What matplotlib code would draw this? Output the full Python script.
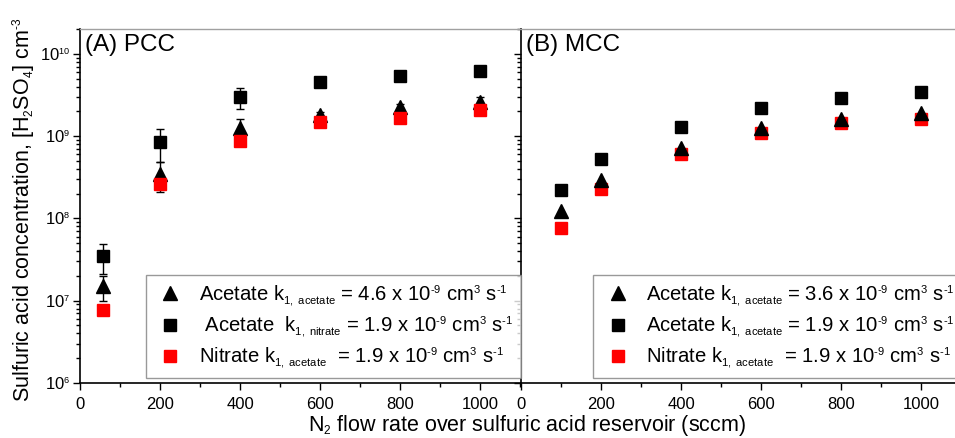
import numpy as np
import matplotlib
matplotlib.use("Agg")
import matplotlib.pyplot as plt
import matplotlib._mathtext as mathtext_internals
from matplotlib.ticker import LogLocator, NullFormatter, MultipleLocator

plt.rcParams['font.family'] = ['Liberation Sans', 'DejaVu Sans']
plt.rcParams['mathtext.fontset'] = 'custom'
plt.rcParams['mathtext.rm'] = 'Liberation Sans'
plt.rcParams['mathtext.it'] = 'Liberation Sans:italic'
plt.rcParams['mathtext.bf'] = 'Liberation Sans:bold'
# smaller sub/superscripts, like the Origin original
mathtext_internals.SHRINK_FACTOR = 0.55

# (A) PCC data
pcc_x = [57, 200, 400, 600, 800, 1000]
pcc_tri = [1.5e7, 3.5e8, 1.26e9, 1.8e9, 2.23e9, 2.6e9]
pcc_tri_err = [0.5e7, 1.4e8, 0.35e9, 0.15e9, 0.2e9, 0.4e9]
pcc_sq = [3.5e7, 8.5e8, 3.0e9, 4.5e9, 5.4e9, 6.2e9]
pcc_sq_err = [1.4e7, 3.6e8, 0.85e9, 0.3e9, 0.45e9, 0.9e9]
pcc_red = [7.8e6, 2.6e8, 8.7e8, 1.48e9, 1.67e9, 2.1e9]

# (B) MCC data
mcc_x = [100, 200, 400, 600, 800, 1000]
mcc_tri = [1.23e8, 2.9e8, 7.2e8, 1.24e9, 1.62e9, 1.89e9]
mcc_sq = [2.23e8, 5.3e8, 1.29e9, 2.2e9, 2.93e9, 3.47e9]
mcc_red = [7.6e7, 2.3e8, 6.0e8, 1.08e9, 1.43e9, 1.62e9]

HY = "\u2010"
pcc_labels = [
    r"Acetate k$_{\mathrm{1,\ acetate}}$ = 4.6 x 10$^{\mathrm{" + HY + r"9}}$ cm$^{\mathrm{3}}$ s$^{\mathrm{" + HY + r"1}}$",
    r" Acetate  k$_{\mathrm{1,\ nitrate}}$ = 1.9 x 10$^{\mathrm{" + HY + r"9}}$ cm$^{\mathrm{3}}$ s$^{\mathrm{" + HY + r"1}}$",
    r"Nitrate k$_{\mathrm{1,\ acetate}}$  = 1.9 x 10$^{\mathrm{" + HY + r"9}}$ cm$^{\mathrm{3}}$ s$^{\mathrm{" + HY + r"1}}$",
]
mcc_labels = [
    r"Acetate k$_{\mathrm{1,\ acetate}}$ = 3.6 x 10$^{\mathrm{" + HY + r"9}}$ cm$^{\mathrm{3}}$ s$^{\mathrm{" + HY + r"1}}$",
    r"Acetate k$_{\mathrm{1,\ acetate}}$ = 1.9 x 10$^{\mathrm{" + HY + r"9}}$ cm$^{\mathrm{3}}$ s$^{\mathrm{" + HY + r"1}}$",
    r"Nitrate k$_{\mathrm{1,\ acetate}}$  = 1.9 x 10$^{\mathrm{" + HY + r"9}}$ cm$^{\mathrm{3}}$ s$^{\mathrm{" + HY + r"1}}$",
]

fig = plt.figure(figsize=(9.55, 4.38), dpi=100)
ax1 = fig.add_axes([80 / 955, 55 / 438, 440 / 955, 354 / 438])
ax2 = fig.add_axes([521 / 955, 55 / 438, 440 / 955, 354 / 438])
ax1.set_zorder(2)
ax2.set_zorder(1)


def style_axes(ax, show_ylabels):
    ax.set_yscale('log')
    ax.set_xlim(0, 1100)
    ax.set_ylim(1e6, 2e10)
    ax.xaxis.set_major_locator(MultipleLocator(200))
    ax.xaxis.set_minor_locator(MultipleLocator(100))
    ax.yaxis.set_major_locator(LogLocator(base=10, numticks=20))
    ax.yaxis.set_minor_locator(LogLocator(base=10, subs=np.arange(2, 10), numticks=20))
    ax.yaxis.set_minor_formatter(NullFormatter())
    ax.tick_params(which='both', direction='out', top=False, right=False,
                   labelsize=12, width=1.0, color='black')
    ax.tick_params(which='major', length=5, pad=5)
    ax.tick_params(which='minor', length=3)
    ax.tick_params(axis='y', which='major', pad=2)
    ax.spines['top'].set_color('#a0a0a0')
    ax.spines['top'].set_linewidth(1.0)
    ax.spines['right'].set_visible(False)
    ax.spines['left'].set_linewidth(1.2)
    ax.spines['bottom'].set_linewidth(1.2)
    if not show_ylabels:
        ax.tick_params(axis='y', which='both', labelleft=False)


style_axes(ax1, True)
style_axes(ax2, False)
ax1.patch.set_visible(False)

legend_kw = dict(borderaxespad=0, fontsize=14.6, frameon=True, fancybox=False,
                 handlelength=1.65, handletextpad=0.6, labelspacing=0.33,
                 borderpad=0.38)

# left panel
ax1.errorbar(pcc_x, pcc_sq, yerr=pcc_sq_err, fmt='none', ecolor='black',
             elinewidth=1.0, capsize=3, capthick=1.0, zorder=2)
ax1.errorbar(pcc_x, pcc_tri, yerr=pcc_tri_err, fmt='none', ecolor='black',
             elinewidth=1.0, capsize=3, capthick=1.0, zorder=2)
h1, = ax1.plot(pcc_x, pcc_tri, linestyle='none', marker='^', ms=10,
               color='black', zorder=3)
h2, = ax1.plot(pcc_x, pcc_sq, linestyle='none', marker='s', ms=9,
               color='black', zorder=3)
h3, = ax1.plot(pcc_x, pcc_red, linestyle='none', marker='s', ms=9,
               color='#ff0000', zorder=4)
leg1 = ax1.legend([h1, h2, h3], pcc_labels, loc='lower left',
                  bbox_to_anchor=(0.15, 0.014), **legend_kw)
leg1.get_frame().set_edgecolor('#808080')
leg1.get_frame().set_linewidth(1.0)
ax1.text(0.012, 0.985, "(A) PCC", transform=ax1.transAxes, fontsize=17.5,
         ha='left', va='top')

# right panel
r3, = ax2.plot(mcc_x, mcc_red, linestyle='none', marker='s', ms=9,
               color='#ff0000', zorder=2)
r2, = ax2.plot(mcc_x, mcc_sq, linestyle='none', marker='s', ms=9,
               color='black', zorder=3)
r1, = ax2.plot(mcc_x, mcc_tri, linestyle='none', marker='^', ms=10,
               color='black', zorder=3)
leg2 = ax2.legend([r1, r2, r3], mcc_labels, loc='lower left',
                  bbox_to_anchor=(0.164, 0.014), **legend_kw)
leg2.get_frame().set_edgecolor('#808080')
leg2.get_frame().set_linewidth(1.0)
ax2.text(0.012, 0.985, "(B) MCC", transform=ax2.transAxes, fontsize=17.5,
         ha='left', va='top')

fig.text(38 / 955, (438 - 210) / 438,
         r"Sulfuric acid concentration, [H$_{\mathrm{2}}$SO$_{\mathrm{4}}$] cm$^{\mathrm{" + HY + r"3}}$",
         fontsize=15.5, rotation=90, ha='right', va='center')
fig.text(527 / 955, 7 / 438,
         r"N$_{\mathrm{2}}$ flow rate over sulfuric acid reservoir (sccm)",
         fontsize=15.5, ha='center', va='baseline')

fig.savefig("out.png", dpi=100)
